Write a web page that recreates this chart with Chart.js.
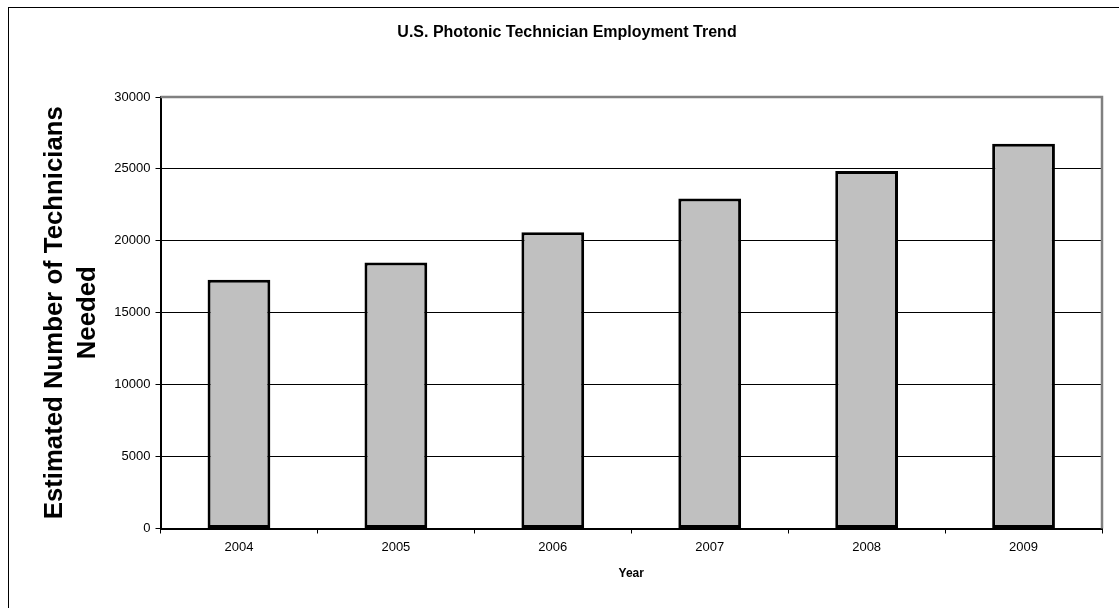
<!DOCTYPE html>
<html>
<head>
<meta charset="utf-8">
<script src="https://cdn.jsdelivr.net/npm/chart.js@4"></script>
<style>
  body { margin: 0; background: #fff; }
  #wrap { width: 1119px; height: 608px; }
</style>
</head>
<body>
<div id="wrap"><canvas id="myChart" width="1119" height="608"></canvas></div>
<script>
// Chart data
const years = ['2004', '2005', '2006', '2007', '2008', '2009'];
const technicians = [17300, 18500, 20600, 22950, 24850, 26750];
const yTicks = [0, 5000, 10000, 15000, 20000, 25000, 30000];

const FONT = 'Arial, "Liberation Sans", sans-serif';

// outer frame + gray top/right edge of the plot area
const framePlugin = {
    id: 'frame',
    beforeDraw(chart) {
        const ctx = chart.ctx;
        ctx.save();
        ctx.strokeStyle = '#000';
        ctx.lineWidth = 1;
        ctx.strokeRect(8.5, 7.5, 1200, 700);
        ctx.restore();
    },
    afterDatasetsDraw(chart) {
        const { ctx, chartArea: a } = chart;
        ctx.save();
        ctx.strokeStyle = '#808080';
        ctx.lineWidth = 2.5;
        ctx.beginPath();
        ctx.moveTo(a.left, a.top);
        ctx.lineTo(a.right, a.top);
        ctx.lineTo(a.right, a.bottom);
        ctx.stroke();
        ctx.restore();
    }
};

const ctx = document.getElementById('myChart').getContext('2d');
new Chart(ctx, {
    type: 'bar',
    data: {
        labels: years,
        datasets: [{
            label: 'Technicians',
            data: technicians,
            backgroundColor: '#C0C0C0',
            borderColor: '#000',
            borderWidth: 3,
            borderSkipped: false,
            barPercentage: 0.4,
            categoryPercentage: 1.0
        }]
    },
    options: {
        responsive: false,
        animation: false,
        layout: { padding: { left: 32, right: 17, top: 0, bottom: 0 } },
        plugins: {
            legend: { display: false },
            tooltip: { enabled: false },
            title: {
                display: true,
                text: 'U.S. Photonic Technician Employment Trend',
                color: '#000',
                font: { family: FONT, size: 16, weight: 'bold', lineHeight: 1.2 },
                padding: { top: 23, bottom: 54.8 }
            }
        },
        scales: {
            x: {
                offset: true,
                grid: {
                    offset: true,
                    drawOnChartArea: false,
                    color: '#000',
                    tickLength: 5,
                    tickColor: '#000'
                },
                border: { color: '#000', width: 2 },
                ticks: {
                    color: '#000',
                    font: { family: FONT, size: 13 },
                    padding: 6,
                    maxRotation: 0
                },
                title: {
                    display: true,
                    text: 'Year',
                    color: '#000',
                    font: { family: FONT, size: 12, weight: 'bold', lineHeight: 1.2 },
                    padding: { top: 0, bottom: 27 }
                },
                afterFit(scale) { scale.height = 79.5; }
            },
            y: {
                min: 0,
                max: 30000,
                afterBuildTicks(scale) {
                    scale.ticks = yTicks.map(v => ({ value: v }));
                },
                grid: {
                    color: '#000',
                    lineWidth: 1,
                    tickLength: 5,
                    tickColor: '#000'
                },
                border: { color: '#000', width: 2 },
                ticks: {
                    color: '#000',
                    font: { family: FONT, size: 13 },
                    padding: 5,
                    callback: v => String(v)
                },
                title: {
                    display: true,
                    text: ['Estimated Number of Technicians', 'Needed'],
                    color: '#000',
                    font: { family: FONT, size: 25.75, weight: 'bold', lineHeight: 1.28 },
                    padding: { top: 6, bottom: 0 }
                },
                afterFit(scale) { scale.width = 128.5; }
            }
        }
    },
    plugins: [framePlugin]
});
</script>
</body>
</html>
